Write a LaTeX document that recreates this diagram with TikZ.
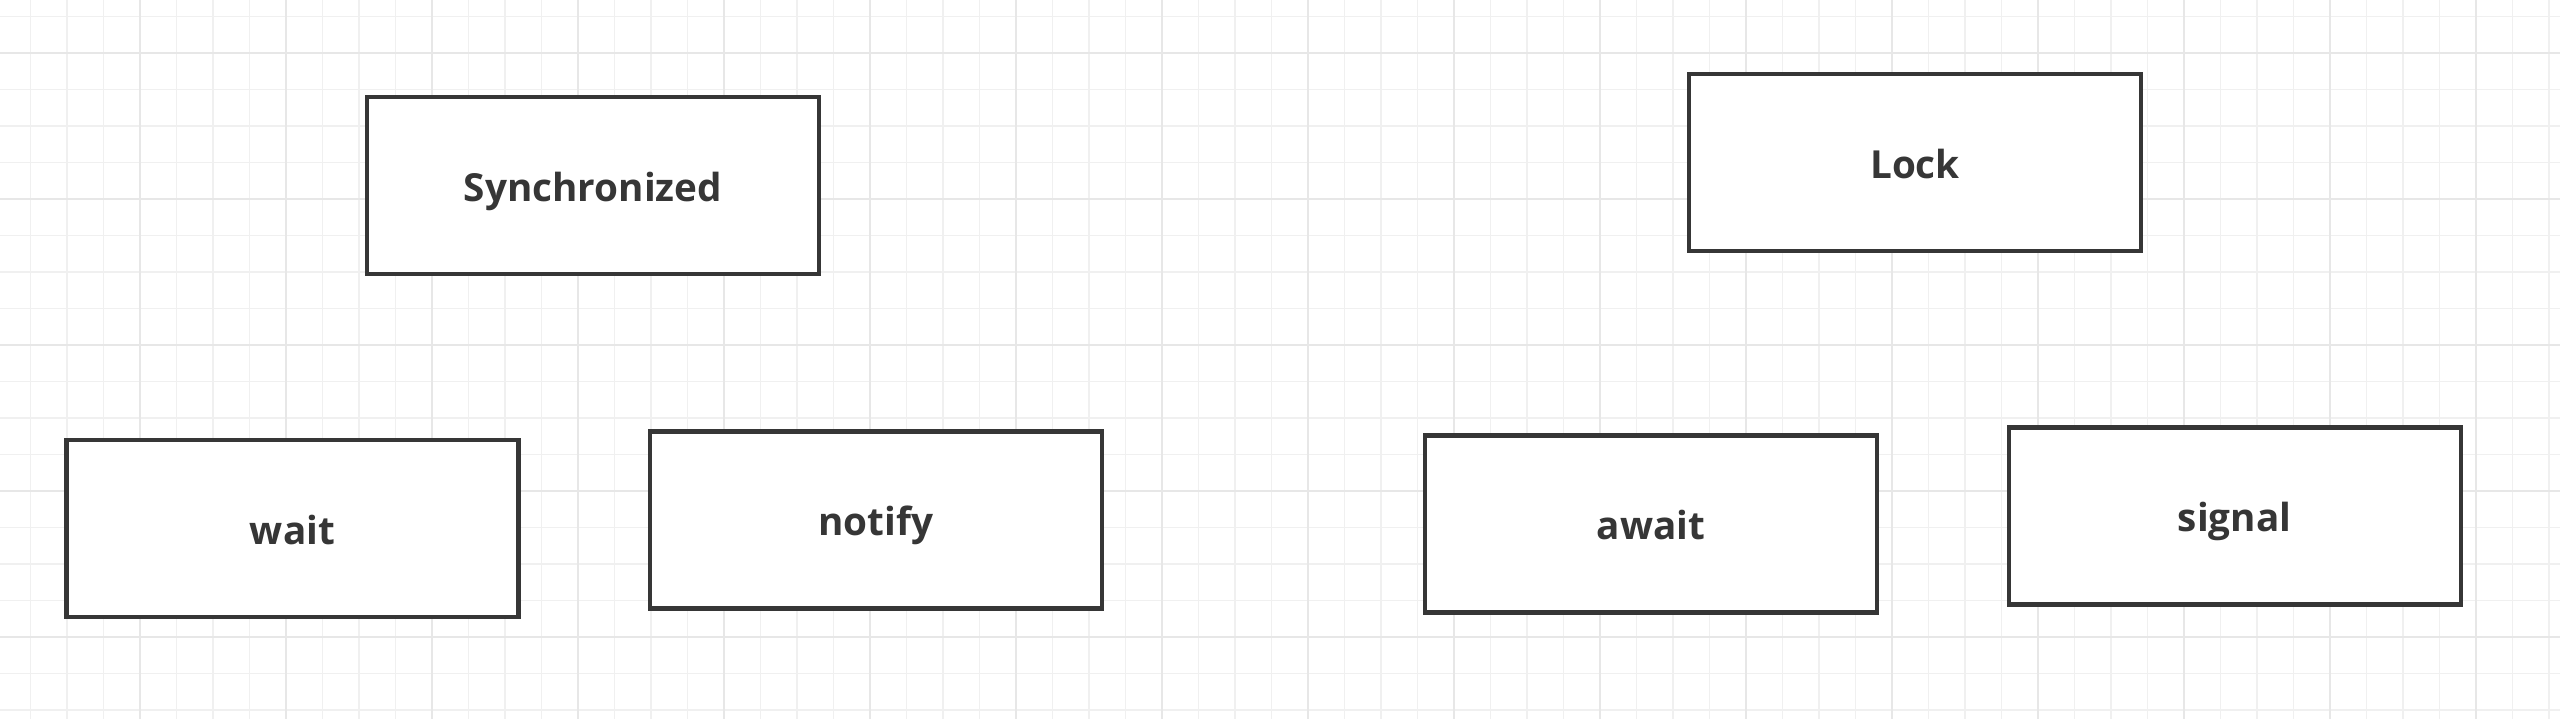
\documentclass[tikz,border=0pt]{standalone}
\usepackage{fontspec}
\setmainfont{Open Sans}
\definecolor{gridminor}{HTML}{F0F0F0}
\definecolor{gridmajor}{HTML}{E7E7E7}
\definecolor{boxline}{HTML}{363636}
\begin{document}
\begin{tikzpicture}[
		caixa/.style={
			draw=boxline,
			rectangle,
			minimum width=4.52cm,
			minimum height=1.77cm,
			text height=2.1ex,
			text depth=0.4ex,
			align=center,
			line width=1.15pt,
			fill=white,
			text=boxline,
			font=\fontsize{11}{13}\selectfont\bfseries
		}
		]
		
		\useasboundingbox (0,0) rectangle (25.6,7.18);
		\fill[white] (0,0) rectangle (25.6,7.18);
		
		%Grade
		\begin{scope}
			\clip (0,0) rectangle (25.6,7.18);
			\begin{scope}[shift={(1.40,6.65)}]
				\draw[gridminor, line width=0.45pt, step=0.365] (-1.825,-7.3) grid (24.455,0.73);
				\draw[gridmajor, line width=0.5pt, step=1.46] (-1.46,-7.3) grid (24.82,1.46);
			\end{scope}
		\end{scope}
		
		\node[caixa] (sync) at (5.93,5.325) {Synchronized};
		\node[caixa] (wait) at (2.925,1.895) {wait};
		\node[caixa] (notify) at (8.76,1.98) {notify};
		
		\node[caixa] (lock) at (19.15,5.555) {Lock};
		\node[caixa] (await) at (16.51,1.94) {await};
		\node[caixa] (signal) at (22.345,2.02) {signal};
		
	\end{tikzpicture}
\end{document}
